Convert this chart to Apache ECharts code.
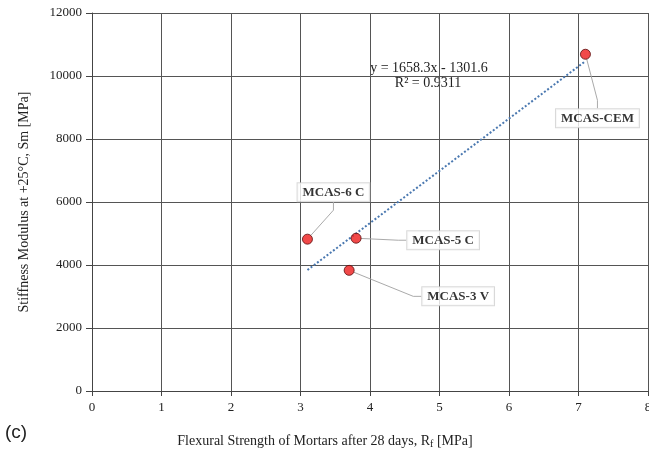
<!DOCTYPE html>
<html><head><meta charset="utf-8">
<script src="https://cdn.jsdelivr.net/npm/echarts@6/dist/echarts.min.js"></script>
<style>html,body{margin:0;padding:0;background:#fff}#c{width:649px;height:456px}</style>
</head><body><div id="c"></div>
<script>
// Data
const names = ['MCAS-6 C', 'MCAS-5 C', 'MCAS-3 V', 'MCAS-CEM'];
const flexural = [3.1, 3.8, 3.7, 7.1];
const stiffness = [4820, 4850, 3830, 10690];
const trendX = [3.1, 7.1];
const trendY = [3839, 10472];
const xTicks = [0, 1, 2, 3, 4, 5, 6, 7, 8];
const yTicks = [0, 2000, 4000, 6000, 8000, 10000, 12000];
const equationText = ['y = 1658.3x - 1301.6', 'R² = 0.9311'];

const labelOffsets = [[26, -47], [87, 2], [109, 26], [12, 64]];
const serif = '"Liberation Serif", "Times New Roman", serif';

const chart = echarts.init(document.getElementById('c'), null, {renderer: 'canvas'});
const option = {
  animation: false,
  backgroundColor: '#fff',
  grid: {left: 92, right: 1, top: 13, bottom: 65, containLabel: false, outerBoundsMode: 'none'},
  xAxis: {
    type: 'value', min: xTicks[0], max: xTicks[xTicks.length - 1], interval: 1,
    name: 'Flexural Strength of Mortars after 28 days, R{sub|f} [MPa]',
    nameLocation: 'middle', nameGap: 42,
    nameTextStyle: {fontFamily: serif, fontSize: 14, color: '#222', padding: [0, 90, 0, 0],
      rich: {sub: {fontFamily: serif, fontSize: 10, color: '#222', verticalAlign: 'bottom', padding: [6, 0, 0, 0]}}},
    axisLine: {show: true, lineStyle: {color: '#444', width: 1}},
    axisTick: {show: true, length: 5, lineStyle: {color: '#444'}},
    axisLabel: {fontFamily: serif, fontSize: 13, color: '#222', margin: 10},
    splitLine: {show: true, lineStyle: {color: '#555', width: 1}}
  },
  yAxis: {
    type: 'value', min: yTicks[0], max: yTicks[yTicks.length - 1], interval: 2000,
    name: 'Stiffness Modulus at +25°C, Sm [MPa]',
    nameLocation: 'middle', nameGap: 61,
    nameTextStyle: {fontFamily: serif, fontSize: 14, color: '#222'},
    axisLine: {show: true, lineStyle: {color: '#444', width: 1}},
    axisTick: {show: true, length: 6, lineStyle: {color: '#444'}},
    axisLabel: {fontFamily: serif, fontSize: 13, color: '#222', margin: 10, formatter: v => String(v)},
    splitLine: {show: true, lineStyle: {color: '#555', width: 1}}
  },
  graphic: [
    {type: 'text', left: 5, top: 423, style: {text: '(c)', font: '19px "Liberation Sans", Arial, sans-serif', fill: '#222'}},
    {type: 'text', x: 429, y: 68, style: {text: equationText[0], font: '14px ' + serif, fill: '#222', textAlign: 'center', textVerticalAlign: 'middle'}},
    {type: 'text', x: 428, y: 83, style: {text: equationText[1], font: '14px ' + serif, fill: '#222', textAlign: 'center', textVerticalAlign: 'middle'}}
  ],
  series: [
    {
      type: 'line', data: trendX.map((x, i) => [x, trendY[i]]),
      symbol: 'none', z: 2,
      lineStyle: {color: '#4a78b0', width: 2, type: [2, 2]}
    },
    {
      type: 'scatter', z: 3,
      data: flexural.map((x, i) => ({value: [x, stiffness[i]], name: names[i]})),
      symbol: 'circle', symbolSize: 10,
      itemStyle: {color: '#ee1c1c', borderColor: '#5a0c0c', borderWidth: 1},
      label: {
        show: true, position: 'inside', formatter: p => p.name,
        fontFamily: serif, fontWeight: 'bold', fontSize: 13, color: '#000',
        backgroundColor: '#fff', borderColor: '#cfcfcf', borderWidth: 1,
        padding: [3, 5, 2, 5]
      },
      labelLine: {show: true, lineStyle: {color: '#aaa', width: 1}, length2: 8},
      labelLayout: p => ({dx: labelOffsets[p.dataIndex][0], dy: labelOffsets[p.dataIndex][1]})
    }
  ]
};
chart.setOption(option);
</script></body></html>
